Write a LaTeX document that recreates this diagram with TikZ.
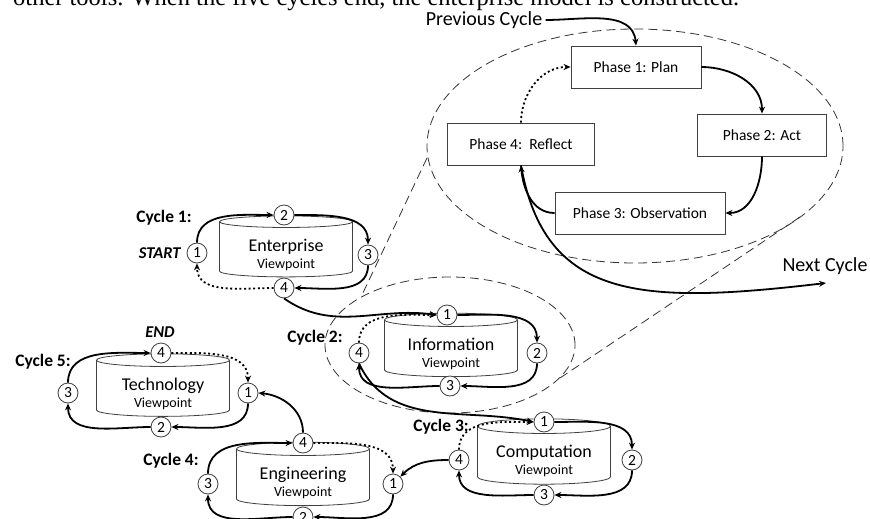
\documentclass[tikz,border=0pt]{standalone}
\usepackage{fontspec}
\setmainfont{Carlito}
\newfontfamily\bodyserif{Liberation Serif}
\usetikzlibrary{arrows.meta,shapes.geometric}

\tikzset{
  flow/.style={line width=1.8pt, -{Stealth[length=7pt,width=6pt]}},
  back/.style={flow, dash pattern=on 2pt off 2.6pt},
  num/.style={circle, draw=black!75, line width=0.8pt, fill=white, minimum size=20pt, inner sep=0pt, font=\fontsize{15.5}{15.5}\selectfont},
  viewpoint/.style={cylinder, shape border rotate=90, aspect=0.15, draw=black!75, line width=0.8pt, minimum width=133pt, minimum height=47pt, align=center, inner sep=1pt, font=\fontsize{18}{19}\selectfont},
  phasebox/.style={rectangle, draw=black!75, line width=0.8pt, fill=white, minimum height=42pt, inner sep=0pt, font=\fontsize{15.5}{18}\selectfont},
  cyclelabel/.style={font=\bfseries\fontsize{17.5}{20}\selectfont},
  startend/.style={font=\bfseries\itshape\fontsize{16.5}{18}\selectfont},
  outside/.style={font=\fontsize{20}{22}\selectfont},
  zoomline/.style={dash pattern=on 9pt off 5pt, line width=0.8pt, draw=black!80}
}
% name of the viewpoint, pushed down a little, then the word Viewpoint
\newcommand{\vptext}[1]{\rule{0pt}{23pt}#1\\[-2pt]{\fontsize{14}{15}\selectfont Viewpoint}}

\begin{document}
\begin{tikzpicture}[x=1pt,y=1pt]
\useasboundingbox (0,0) rectangle (870,-519);
\clip (0,0) rectangle (870,-519);

% line of the page above, cut off
\node[anchor=base west, inner sep=0pt, font=\bodyserif\fontsize{24.5}{25}\selectfont] (pagetext) at (13,-5.5) {other tools. When the five cycles end, the enterprise model is constructed.};

% zoom from cycle 2 to its phases
\draw[zoomline] (635,-146) ellipse [x radius=208, y radius=117];
\draw[zoomline] (450,-345) ellipse [x radius=125, y radius=68];
\draw[zoomline] (427,-158) -- (361,-297);
\draw[zoomline] (800,-217) -- (560,-378);

% the four phases
\node[phasebox, minimum width=130pt] (plan) at (636,-67) {Phase 1: Plan};
\node[phasebox, minimum width=129pt] (act) at (762,-135) {Phase 2: Act};
\node[phasebox, minimum width=170pt] (obs) at (640,-213) {Phase 3: Observation};
\node[phasebox, minimum width=147pt] (reflect) at (521,-144) {Phase 4:\ \ Reflect};
\node[outside] (prev) at (484,-20) {Previous Cycle};
\node[outside] (next) at (825,-266) {Next Cycle};
\coordinate (nexttip) at (826,-283);

\draw[flow] (prev.east) to[out=0, in=95] (plan.north);
\draw[flow] (plan.east) to[out=0, in=90] (act.north);
\draw[flow] (act.south) to[out=-90, in=0] (obs.east);
\draw[flow] (obs.west) to[out=180, in=-85] (reflect.south);
\draw[back] (reflect.north) to[out=90, in=180] (plan.west);
\draw[flow] (reflect.south) .. controls (545,-300) and (640,-305) .. (nexttip);

% Cycle 1
\node[viewpoint] (ent) at (286,-250) {\vptext{Enterprise}};
\node[num] (ent1) at (197,-253) {1};
\node[num] (ent2) at (284,-215) {2};
\node[num] (ent3) at (368,-255) {3};
\node[num] (ent4) at (284,-288) {4};
\node[cyclelabel] (cyc1) at (164,-218) {Cycle 1:};
\node[startend, anchor=east] (start) at (184,-253) {START};
\draw[flow] (ent1.north) to[out=90, in=180] (ent2.west);
\draw[flow] (ent2.east) to[out=0, in=90] (ent3.north);
\draw[flow] (ent3.south) to[out=-90, in=0] (ent4.east);
\draw[back] (ent4.west) to[out=180, in=-90] (ent1.south);

% Cycle 2
\node[viewpoint] (inf) at (451,-349) {\vptext{Information}};
\node[num] (inf1) at (447,-315) {1};
\node[num] (inf2) at (537,-353) {2};
\node[num] (inf3) at (450,-386) {3};
\node[num] (inf4) at (359,-353) {4};
\node[cyclelabel] (cyc2) at (315,-338) {Cycle 2:};
\draw[flow] (inf1.east) to[out=0, in=90] (inf2.north);
\draw[flow] (inf2.south) to[out=-90, in=0] (inf3.east);
\draw[flow] (inf3.west) to[out=180, in=-90] (inf4.south);
\draw[back] (inf4.north) to[out=90, in=180] (inf1.west);
\draw[flow] (ent4.south) to[out=-35, in=172] (inf1.west);

% Cycle 3
\node[viewpoint] (com) at (544,-456) {\vptext{Computation}};
\node[num] (com1) at (544,-422) {1};
\node[num] (com2) at (632,-460) {2};
\node[num] (com3) at (544,-495) {3};
\node[num] (com4) at (459,-460) {4};
\node[cyclelabel] (cyc3) at (441,-427) {Cycle 3:};
\draw[flow] (com1.east) to[out=0, in=90] (com2.north);
\draw[flow] (com2.south) to[out=-90, in=0] (com3.east);
\draw[flow] (com3.west) to[out=180, in=-90] (com4.south);
\draw[back] (com4.north) to[out=90, in=180] (com1.west);
\draw[flow] (inf4.south) to[out=-65, in=168] (com1.west);

% Cycle 4
\node[viewpoint] (eng) at (303,-478) {\vptext{Engineering}};
\node[num] (eng1) at (393,-484) {1};
\node[num] (eng2) at (303,-517) {2};
\node[num] (eng3) at (208,-484) {3};
\node[num] (eng4) at (303,-443) {4};
\node[cyclelabel] (cyc4) at (171,-461) {Cycle 4:};
\draw[flow] (eng1.south) to[out=-90, in=0] (eng2.east);
\draw[flow] (eng2.west) to[out=180, in=-90] (eng3.south);
\draw[flow] (eng3.north) to[out=90, in=180] (eng4.west);
\draw[back] (eng4.east) to[out=0, in=90] (eng1.north);
\draw[flow] (com4.west) to[out=180, in=45] (eng1.north east);

% Cycle 5
\node[viewpoint] (tec) at (163,-389) {\vptext{Technology}};
\node[num] (tec1) at (248,-393) {1};
\node[num] (tec2) at (161,-427) {2};
\node[num] (tec3) at (68,-393) {3};
\node[num] (tec4) at (161,-353) {4};
\node[cyclelabel] (cyc5) at (43,-362) {Cycle 5:};
\node[startend] (finish) at (160,-332) {END};
\draw[flow] (tec1.south) to[out=-90, in=0] (tec2.east);
\draw[flow] (tec2.west) to[out=180, in=-90] (tec3.south);
\draw[flow] (tec3.north) to[out=90, in=180] (tec4.west);
\draw[back] (tec4.east) to[out=0, in=90] (tec1.north);
\draw[flow] (eng4.north) to[out=90, in=-5] (tec1.east);
\end{tikzpicture}
\end{document}
